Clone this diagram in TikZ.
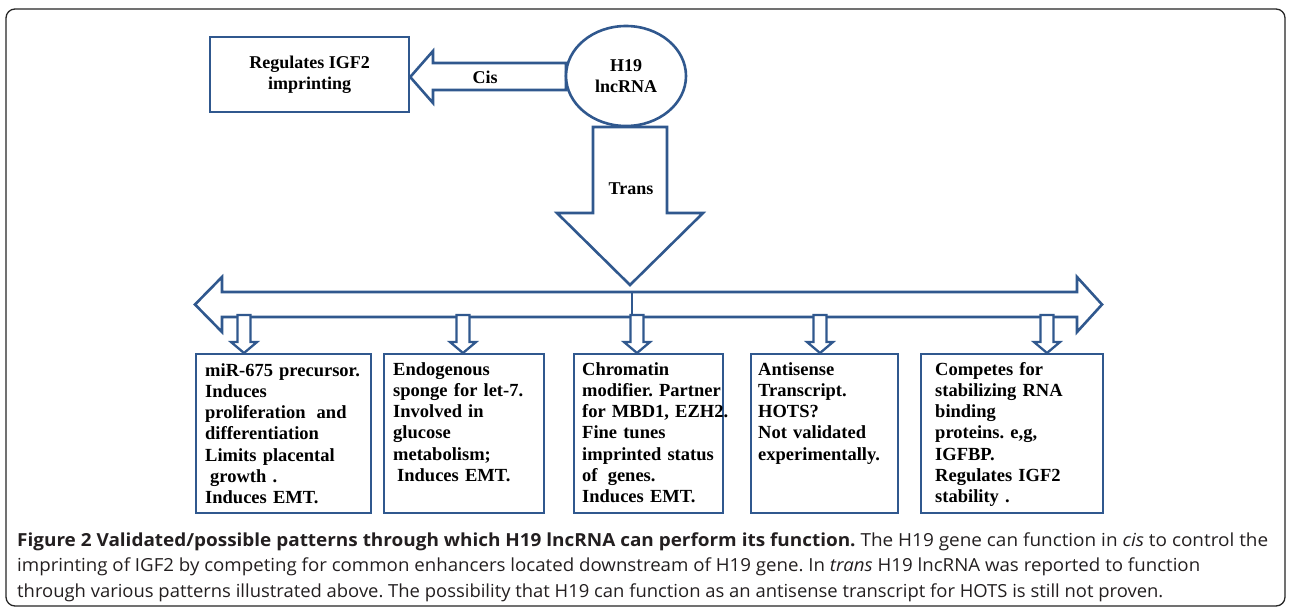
\documentclass[tikz,border=0pt]{standalone}
\usepackage{fontspec}
\usepackage{graphicx}
\setmainfont{Liberation Serif}
\newfontfamily\capfont{Open Sans}
\usetikzlibrary{shapes.geometric}
\definecolor{boxblue}{RGB}{48,88,142}
\definecolor{capgray}{RGB}{35,31,32}
\begin{document}
\frenchspacing
\begin{tikzpicture}[x=1pt,y=-1pt,
  bigarrow/.style={draw=boxblue, line width=2.6pt, line join=miter, fill=white},
  smallarrow/.style={draw=boxblue, line width=2.3pt, line join=miter, fill=white},
  txtbox/.style={draw=boxblue, line width=2.2pt, rectangle, anchor=north west, inner sep=0pt},
  btext/.style={font=\bfseries\fontsize{18.5}{21.3}\selectfont, align=left, text width=200pt, anchor=base west, inner sep=0pt},
  ctext/.style={font=\bfseries\fontsize{18}{21}\selectfont, align=center, inner sep=0pt},
  capline/.style={anchor=base west, inner sep=0pt, text=capgray, font=\capfont\fontsize{18}{21}\selectfont}]
\useasboundingbox (0,0) rectangle (1289,610);
\fill[white] (0,0) rectangle (1289,610);
% frame
\draw[rounded corners=9pt, line width=1.3pt, draw=black!85] (6,9) rectangle (1285,606);

% top box
\node[txtbox, minimum width=199pt, minimum height=75pt] (reg) at (209,36) {};
\node[ctext] (regtext) at (reg.center) {Regulates IGF2\\imprinting};

% cis arrow
\draw[bigarrow] (566,63) -- (433,63) -- (433,51) -- (reg.east |- 0,77) -- (433,103) -- (433,90) -- (566,90) -- cycle;
\node[ctext] (cis) at (485,77) {Cis};

% ellipse
\node[ellipse, draw=boxblue, line width=2.6pt, fill=white, minimum width=120pt, minimum height=100pt, inner sep=0pt] (h19) at (626,76) {};
\node[ctext] (h19text) at (h19.center) {H19\\lncRNA};

% trans arrow
\coordinate (transtip) at (630,285);
\draw[bigarrow] (593,127) -- (593,213) -- (557,213) -- (transtip) -- (703,213) -- (667,213) -- (667,127) -- cycle;
\node[ctext] (trans) at (631,189) {Trans};

% horizontal double arrow
\draw[bigarrow] (222,292) -- (1077,292) -- (1077,277) -- (1102,304.5) -- (1077,332) -- (1077,317)
  -- (222,317) -- (222,332) -- (195,304.5) -- (222,277) -- cycle;
\coordinate (vtop) at (632,292);
\coordinate (vbot) at (632,317);
\draw[draw=boxblue, line width=2.4pt] (vtop) -- (vbot);

% boxes
\node[txtbox, minimum width=175pt, minimum height=159pt] (b1) at (195,353) {};
\node[txtbox, minimum width=160pt, minimum height=159pt] (b2) at (383,353) {};
\node[txtbox, minimum width=149pt, minimum height=159pt] (b3) at (573,353) {};
\node[txtbox, minimum width=147pt, minimum height=159pt] (b4) at (750,353) {};
\node[txtbox, minimum width=182pt, minimum height=159pt] (b5) at (920,353) {};

% small arrows
\foreach \cx/\b in {244/b1, 463/b2, 637/b3, 820/b4, 1047/b5}{
  \draw[smallarrow] (\cx-6.5,315) -- (\cx-6.5,342) -- (\cx-13,342) -- (\cx,353) -- (\cx+13,342) -- (\cx+6.5,342) -- (\cx+6.5,315) -- cycle;
}

% box texts
\node[btext] (t1) at (205,376) {miR-675 precursor.\\Induces\\proliferation\hspace{5pt} and\\differentiation\\Limits placental\\\hspace*{5pt}growth .\\Induces EMT.};
\node[btext] (t2) at (393,375) {Endogenous\\sponge for let-7.\\Involved in\\glucose\\metabolism;\\\hspace*{4pt}Induces EMT.};
\node[btext] (t3) at (582,375) {Chromatin\\modifier. Partner\\for MBD1, EZH2.\\Fine tunes\\imprinted status\\of\hspace{4pt} genes.\\Induces EMT.};
\node[btext] (t4) at (758,375) {Antisense\\Transcript.\\HOTS?\\Not validated\\experimentally.};
\node[btext] (t5) at (935,375) {Competes for\\stabilizing RNA\\binding\\proteins. e,g,\\IGFBP.\\Regulates IGF2\\stability .};

% caption
\node[capline] (cap1) at (17,546) {\resizebox{1251pt}{\height}{\textbf{Figure 2 Validated/possible patterns through which H19 lncRNA can perform its function.} The H19 gene can function in \textit{cis} to control the}};
\node[capline] (cap2) at (17,571) {\resizebox{1183pt}{\height}{imprinting of IGF2 by competing for common enhancers located downstream of H19 gene. In \textit{trans} H19 lncRNA was reported to function}};
\node[capline] (cap3) at (17,597) {\resizebox{1146pt}{\height}{through various patterns illustrated above. The possibility that H19 can function as an antisense transcript for HOTS is still not proven.}};
\end{tikzpicture}
\end{document}
